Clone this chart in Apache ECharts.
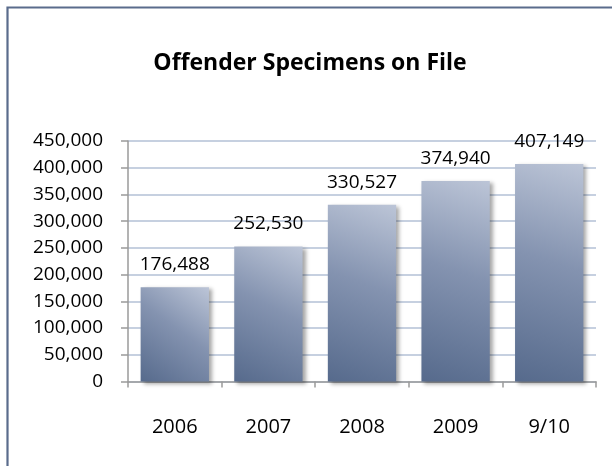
<!DOCTYPE html>
<html>
<head>
<meta charset="utf-8">
<script src="https://cdn.jsdelivr.net/npm/echarts@6/dist/echarts.min.js"></script>
<style>
  html, body { margin: 0; padding: 0; background: #fff; }
  #chart { width: 612px; height: 466px; }
</style>
</head>
<body>
<div id="chart"></div>
<script>
// Offender specimens on file, by year
const categories = ['2006', '2007', '2008', '2009', '9/10'];
const specimens = [176488, 252530, 330527, 374940, 407149];
const titleText = 'Offender Specimens on File';

const FONT = '"Open Sans", "Lato", sans-serif';
const fmt = v => v.toLocaleString('en-US');

const chart = echarts.init(document.getElementById('chart'), null, { renderer: 'canvas' });

chart.setOption({
  backgroundColor: '#ffffff',
  animation: false,
  title: {
    text: titleText,
    left: 305,
    top: 47,
    textAlign: 'center',
    textStyle: { fontFamily: FONT, fontWeight: 'bold', fontSize: 23, color: '#000' }
  },
  graphic: [{
    type: 'rect',
    shape: { x: 7.5, y: 7.5, width: 640, height: 490 },
    style: { fill: 'none', stroke: '#5a6c8c', lineWidth: 2.2 },
    silent: true
  }],
  grid: { left: 128, right: 16, top: 141, bottom: 84.5 },
  xAxis: {
    type: 'category',
    data: categories,
    axisLine: { lineStyle: { color: '#9a9a9a', width: 1.5 } },
    axisTick: { show: true, length: 6, lineStyle: { color: '#9a9a9a', width: 1.5 } },
    axisLabel: { margin: 36, fontFamily: FONT, fontSize: 20, color: '#000' }
  },
  yAxis: {
    type: 'value',
    min: 0,
    max: 450000,
    interval: 50000,
    axisLine: { show: true, lineStyle: { color: '#9a9a9a', width: 1.5 } },
    axisTick: { show: true, length: 7, lineStyle: { color: '#9a9a9a', width: 1.5 } },
    axisLabel: { margin: 25, fontFamily: FONT, fontSize: 19, color: '#000', formatter: fmt },
    splitLine: { show: true, lineStyle: { color: '#c6d0e0', width: 2 } }
  },
  series: [{
    type: 'bar',
    data: specimens,
    barWidth: '73%',
    itemStyle: {
      color: new echarts.graphic.LinearGradient(0, 1, 1, 0, [
        { offset: 0, color: '#566a8c' },
        { offset: 0.55, color: '#8493b0' },
        { offset: 1, color: '#bcc5d7' }
      ]),
      shadowColor: 'rgba(0,0,0,0.35)',
      shadowBlur: 4,
      shadowOffsetX: 3,
      shadowOffsetY: 2
    },
    label: {
      show: true,
      position: 'top',
      distance: 13,
      fontFamily: FONT,
      fontSize: 19,
      color: '#000',
      formatter: p => fmt(p.value)
    }
  }]
});
</script>
</body>
</html>
